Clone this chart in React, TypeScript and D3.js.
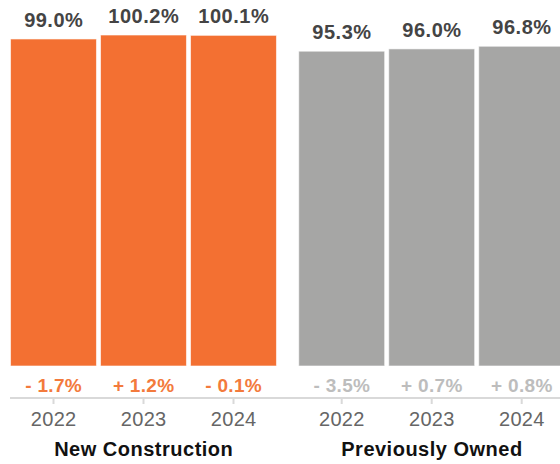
import React from "react";
import * as d3 from "d3";

const groups = ["New Construction", "Previously Owned"];
const years = ["2022", "2023", "2024"];
const newConstructionValues = [99.0, 100.2, 100.1];
const previouslyOwnedValues = [95.3, 96.0, 96.8];
const newConstructionChanges = ["- 1.7%", "+ 1.2%", "- 0.1%"];
const previouslyOwnedChanges = ["- 3.5%", "+ 0.7%", "+ 0.8%"];
const barColors = ["#F37032", "#A6A6A5"];
const changeColors = ["#F37A3C", "#BDBDBD"];

const W = 560;
const H = 464;
const FONT = "'Liberation Sans', Arial, Helvetica, sans-serif";

export default function App() {
  const x0 = d3.scaleBand<string>().domain(groups).range([8.5, 566.7]).paddingInner(0.0632);
  const x1 = d3
    .scaleBand<string>()
    .domain(years)
    .range([0, x0.bandwidth()])
    .paddingInner(0.045)
    .paddingOuter(0.0225);
  const y = d3.scaleLinear().domain([0, 110.8]).range([366, 0]);

  const series = [
    { group: groups[0], values: newConstructionValues, changes: newConstructionChanges },
    { group: groups[1], values: previouslyOwnedValues, changes: previouslyOwnedChanges },
  ];

  const axisY = 398;

  return (
    <svg
      width={W}
      height={H}
      style={{ position: "absolute", left: 0, top: 0, display: "block", background: "#fff" }}
      fontFamily={FONT}
    >
      <line x1={10} x2={W} y1={axisY} y2={axisY} stroke="#D9D9D9" strokeWidth={2} />
      {series.map((s, gi) => {
        const gx = x0(s.group) as number;
        return (
          <g key={s.group} transform={`translate(${gx},0)`}>
            {years.map((yr, i) => {
              const bx = x1(yr) as number;
              const cx = bx + x1.bandwidth() / 2;
              const v = s.values[i];
              return (
                <g key={yr}>
                  <rect
                    x={bx}
                    y={y(v)}
                    width={x1.bandwidth()}
                    height={y(0) - y(v)}
                    fill={barColors[gi]}
                    stroke="#fff"
                    strokeOpacity={0.6}
                    strokeWidth={1}
                  />
                  <text
                    x={cx + 0.25}
                    y={y(v) - 12}
                    textAnchor="middle"
                    fontSize={20}
                    fontWeight="bold"
                    fill="#444"
                    letterSpacing={0.5}
                  >
                    {v.toFixed(1)}%
                  </text>
                  <text
                    x={cx + 0.15}
                    y={391.5}
                    textAnchor="middle"
                    fontSize={19}
                    fontWeight="bold"
                    fill={changeColors[gi]}
                    letterSpacing={0.3}
                  >
                    {s.changes[i]}
                  </text>
                  <line x1={cx} x2={cx} y1={axisY} y2={axisY + 6} stroke="#D9D9D9" strokeWidth={2} />
                  <text
                    x={cx + 0.15}
                    y={426}
                    textAnchor="middle"
                    fontSize={20}
                    fill="#666"
                    letterSpacing={0.3}
                  >
                    {yr}
                  </text>
                </g>
              );
            })}
            <text
              x={x0.bandwidth() / 2 + 0.25}
              y={456}
              textAnchor="middle"
              fontSize={20}
              fontWeight="bold"
              fill="#111"
              letterSpacing={0.5}
            >
              {s.group}
            </text>
          </g>
        );
      })}
    </svg>
  );
}
